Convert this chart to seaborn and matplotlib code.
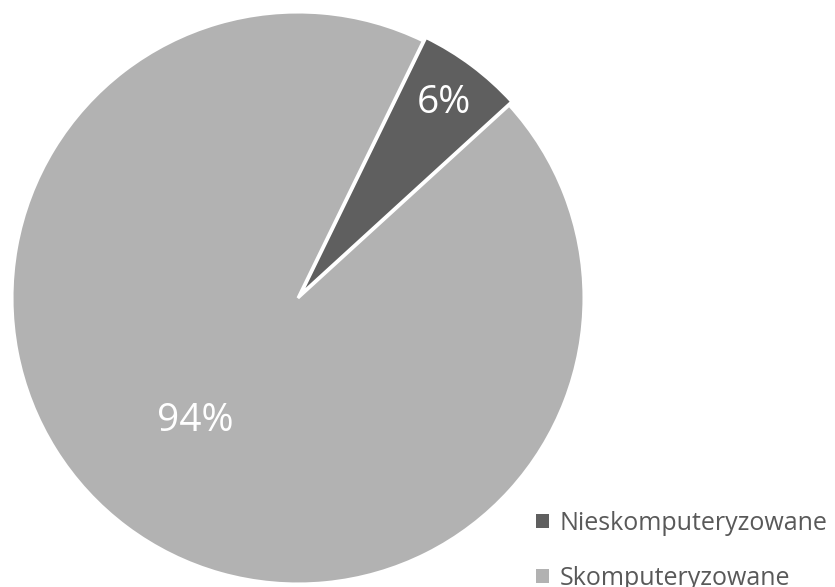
import numpy as np
import matplotlib
matplotlib.use("Agg")
import matplotlib.pyplot as plt
import seaborn as sns
from matplotlib.patches import Patch

sns.set_theme(style="white")
plt.rcParams['font.family'] = ['Open Sans', 'DejaVu Sans']

# dane
kategorie = ['Nieskomputeryzowane', 'Skomputeryzowane']
wartosci = [6, 94]
kolory = ['#5f5f5f', '#b2b2b2']

fig = plt.figure(figsize=(8.35, 5.87), dpi=100)
ax = fig.add_axes([12 / 835, 3 / 587, 572 / 835, 572 / 587])

wedges, _ = ax.pie(wartosci, colors=kolory, startangle=64, counterclock=False,
                   explode=[0.015, 0], radius=1.0,
                   wedgeprops=dict(edgecolor='white', linewidth=2.2))
ax.set_aspect('equal')
ax.set_xlim(-1, 1)
ax.set_ylim(-1, 1)
ax.axis('off')

# etykiety procentowe
odleglosci = [0.85, 0.56]
przesun = [0, -3]
for w, v, d, p in zip(wedges, wartosci, odleglosci, przesun):
    kat = np.deg2rad((w.theta1 + w.theta2) / 2 + p)
    ax.text(d * np.cos(kat), d * np.sin(kat), f'{v}%', ha='center', va='center',
            color='white', fontsize=28)

uchwyty = [Patch(facecolor=k, edgecolor='none') for k in kolory]
fig.legend(uchwyty, kategorie, loc='upper left', bbox_to_anchor=(526 / 835, 1 - 501 / 587),
           frameon=False, fontsize=18, handlelength=0.5, handleheight=0.5,
           handletextpad=0.45, labelspacing=1.2, labelcolor='#595959',
           borderaxespad=0)

fig.savefig('out.png', dpi=100)
